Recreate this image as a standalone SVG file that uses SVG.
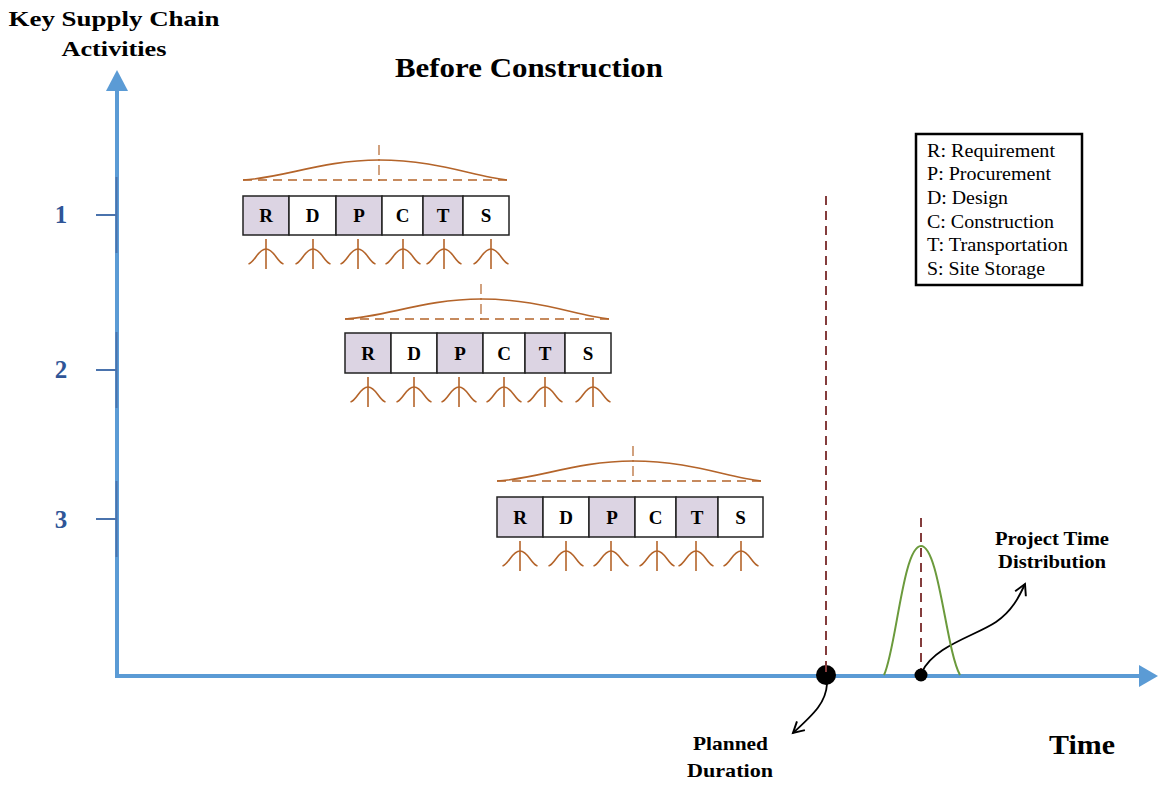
<svg xmlns="http://www.w3.org/2000/svg" width="1159" height="786" viewBox="0 0 1159 786">
  <style>
    .lbl { font-family: "Liberation Serif", "Times New Roman", serif; font-weight: bold; fill: #000; }
    .box { stroke: #222; stroke-width: 1.5; }
    .shade { fill: #DCD4E3; }
    .plain { fill: #fff; }
    .bx { font-family: "Liberation Serif", serif; font-weight: bold; font-size: 19px; text-anchor: middle; }
    .brown { fill: none; stroke: #B4642A; stroke-width: 1.6; }
    .brownDash { fill: none; stroke: #B4642A; stroke-width: 1.6; stroke-dasharray: 9 6; }
    .vdash { fill: none; stroke: #B4642A; stroke-width: 1.2; stroke-dasharray: 10 4 2 4; }
    .axis { stroke: #5B9BD5; stroke-width: 4; fill: none; }
    .tick { stroke: #4A73AD; stroke-width: 2; }
    .num { font-family: "Liberation Serif", serif; font-weight: bold; font-size: 25px; fill: #2F5597; text-anchor: middle; }
    .red { stroke: #843C3C; stroke-width: 2; stroke-dasharray: 9 6; fill: none; }
    .legend { font-family: "Liberation Serif", serif; font-size: 18px; fill: #000; }
  </style>
  <defs>
    <marker id="openHead" viewBox="0 0 14 14" refX="12" refY="7" markerWidth="15" markerHeight="15" markerUnits="userSpaceOnUse" orient="auto">
      <path d="M2,1.5 L12,7 L2,12.5" fill="none" stroke="#000" stroke-width="1.8"/>
    </marker>
    <!-- small distribution under each activity -->
    <g id="mini">
      <path class="brown" d="M-17.5,29 C-11,27 -8,14 0,14 C8,14 11,27 17.5,29"/>
      <line class="brown" x1="0" y1="4" x2="0" y2="34" stroke-width="1.3"/>
    </g>
  </defs>

  <!-- axis titles -->
  <g id="title-activities">
    <text class="lbl" x="114" y="26" font-size="22" text-anchor="middle" textLength="211" lengthAdjust="spacingAndGlyphs">Key Supply Chain</text>
    <text class="lbl" x="114" y="56" font-size="22" text-anchor="middle" textLength="105" lengthAdjust="spacingAndGlyphs">Activities</text>
  </g>
  <g id="title-main">
    <text class="lbl" x="529" y="77" font-size="28" text-anchor="middle" textLength="268" lengthAdjust="spacingAndGlyphs">Before Construction</text>
  </g>
  <g id="title-time">
    <text class="lbl" x="1082" y="754" font-size="28" text-anchor="middle" textLength="66" lengthAdjust="spacingAndGlyphs">Time</text>
  </g>

  <!-- connectors: axes, ticks, reference lines and pointers -->
  <g id="connectors">
    <line class="axis" x1="117" y1="677" x2="117" y2="86"/>
    <polygon points="117,70 106,91 128,91" fill="#5B9BD5"/>
    <line class="axis" x1="115" y1="676" x2="1142" y2="676"/>
    <polygon points="1158,676 1139,665 1139,687" fill="#5B9BD5"/>

    <line class="tick" x1="96" y1="215" x2="117" y2="215"/>
    <line class="tick" x1="116.5" y1="177" x2="116.5" y2="253"/>
    <line class="tick" x1="96" y1="370" x2="117" y2="370"/>
    <line class="tick" x1="116.5" y1="332" x2="116.5" y2="408"/>
    <line class="tick" x1="96" y1="519" x2="117" y2="519"/>
    <line class="tick" x1="116.5" y1="481" x2="116.5" y2="557"/>

    <line class="red" x1="826" y1="196" x2="826" y2="672"/>
    <line class="red" x1="921" y1="518" x2="921" y2="672"/>

    <path d="M827,684 C826,702 815,713 793,733" fill="none" stroke="#000" stroke-width="1.8" marker-end="url(#openHead)"/>
    <path d="M922,672 C934,646 975,636 996,622 C1012,611 1019,597 1025,584" fill="none" stroke="#000" stroke-width="1.8" marker-end="url(#openHead)"/>
  </g>

  <g id="ticks-labels">
    <text class="num" x="61" y="223">1</text>
    <text class="num" x="61" y="378">2</text>
    <text class="num" x="61" y="528">3</text>
  </g>

  <!-- activity sequences -->
  <g id="row-1" transform="translate(243,196)">
    <path class="brown" d="M0,-16 C40,-18 80,-36 136,-36 C192,-36 230,-20 264,-16"/>
    <line class="brownDash" x1="0" y1="-16" x2="264" y2="-16"/>
    <line class="vdash" x1="136" y1="-51" x2="136" y2="-13"/>
    <rect class="box shade" x="0" y="0" width="46" height="39"/>
    <rect class="box plain" x="46" y="0" width="47" height="39"/>
    <rect class="box shade" x="93" y="0" width="46" height="39"/>
    <rect class="box plain" x="139" y="0" width="41" height="39"/>
    <rect class="box shade" x="180" y="0" width="40" height="39"/>
    <rect class="box plain" x="220" y="0" width="46" height="39"/>
    <text class="bx" x="23" y="26">R</text>
    <text class="bx" x="69.5" y="26">D</text>
    <text class="bx" x="116" y="26">P</text>
    <text class="bx" x="159.5" y="26">C</text>
    <text class="bx" x="200" y="26">T</text>
    <text class="bx" x="243" y="26">S</text>
    <use href="#mini" x="23" y="39"/>
    <use href="#mini" x="70" y="39"/>
    <use href="#mini" x="115" y="39"/>
    <use href="#mini" x="160" y="39"/>
    <use href="#mini" x="201" y="39"/>
    <use href="#mini" x="248" y="39"/>
  </g>

  <g id="row-2" transform="translate(345,333)">
    <path class="brown" d="M0,-14 C40,-16 80,-34 136,-34 C192,-34 230,-18 264,-14"/>
    <line class="brownDash" x1="0" y1="-14" x2="264" y2="-14"/>
    <line class="vdash" x1="136" y1="-49" x2="136" y2="-11"/>
    <rect class="box shade" x="0" y="0" width="46" height="40"/>
    <rect class="box plain" x="46" y="0" width="46" height="40"/>
    <rect class="box shade" x="92" y="0" width="46" height="40"/>
    <rect class="box plain" x="138" y="0" width="42" height="40"/>
    <rect class="box shade" x="180" y="0" width="40" height="40"/>
    <rect class="box plain" x="220" y="0" width="46" height="40"/>
    <text class="bx" x="23" y="27">R</text>
    <text class="bx" x="69" y="27">D</text>
    <text class="bx" x="115" y="27">P</text>
    <text class="bx" x="159" y="27">C</text>
    <text class="bx" x="200" y="27">T</text>
    <text class="bx" x="243" y="27">S</text>
    <use href="#mini" x="23" y="40"/>
    <use href="#mini" x="69" y="40"/>
    <use href="#mini" x="114" y="40"/>
    <use href="#mini" x="159" y="40"/>
    <use href="#mini" x="200" y="40"/>
    <use href="#mini" x="248" y="40"/>
  </g>

  <g id="row-3" transform="translate(497,497)">
    <path class="brown" d="M0,-16 C40,-18 80,-36 136,-36 C192,-36 230,-20 264,-16"/>
    <line class="brownDash" x1="0" y1="-16" x2="264" y2="-16"/>
    <line class="vdash" x1="136" y1="-51" x2="136" y2="-13"/>
    <rect class="box shade" x="0" y="0" width="46" height="40"/>
    <rect class="box plain" x="46" y="0" width="46" height="40"/>
    <rect class="box shade" x="92" y="0" width="46" height="40"/>
    <rect class="box plain" x="138" y="0" width="41" height="40"/>
    <rect class="box shade" x="179" y="0" width="42" height="40"/>
    <rect class="box plain" x="221" y="0" width="45" height="40"/>
    <text class="bx" x="23" y="27">R</text>
    <text class="bx" x="69" y="27">D</text>
    <text class="bx" x="115" y="27">P</text>
    <text class="bx" x="158.5" y="27">C</text>
    <text class="bx" x="200" y="27">T</text>
    <text class="bx" x="243.5" y="27">S</text>
    <use href="#mini" x="23" y="40"/>
    <use href="#mini" x="69" y="40"/>
    <use href="#mini" x="114" y="40"/>
    <use href="#mini" x="160" y="40"/>
    <use href="#mini" x="199" y="40"/>
    <use href="#mini" x="244" y="40"/>
  </g>

  <!-- legend -->
  <g id="legend">
    <rect x="916" y="134" width="166" height="151" fill="#fff" stroke="#000" stroke-width="2.5"/>
    <text class="legend" x="927" y="157" textLength="128" lengthAdjust="spacingAndGlyphs">R: Requirement</text>
    <text class="legend" x="927" y="180" textLength="124" lengthAdjust="spacingAndGlyphs">P: Procurement</text>
    <text class="legend" x="927" y="204" textLength="81" lengthAdjust="spacingAndGlyphs">D: Design</text>
    <text class="legend" x="927" y="228" textLength="127" lengthAdjust="spacingAndGlyphs">C: Construction</text>
    <text class="legend" x="927" y="251" textLength="141" lengthAdjust="spacingAndGlyphs">T: Transportation</text>
    <text class="legend" x="927" y="275" textLength="118" lengthAdjust="spacingAndGlyphs">S: Site Storage</text>
  </g>

  <!-- planned duration marker -->
  <g id="planned-duration">
    <circle cx="826" cy="675" r="10" fill="#000"/>
    <line x1="826" y1="662" x2="826" y2="672" stroke="#843C3C" stroke-width="2"/>
    <text class="lbl" x="730.5" y="750" font-size="19" text-anchor="middle" textLength="75" lengthAdjust="spacingAndGlyphs">Planned</text>
    <text class="lbl" x="730" y="777" font-size="19" text-anchor="middle" textLength="86" lengthAdjust="spacingAndGlyphs">Duration</text>
  </g>

  <!-- project time distribution -->
  <g id="project-distribution">
    <path d="M884,675 C896,650 903,546 921,546 C939,546 946,650 960,675" fill="none" stroke="#6B9A3C" stroke-width="2"/>
    <circle cx="921" cy="675" r="6.5" fill="#000"/>
    <text class="lbl" x="1052" y="545" font-size="19" text-anchor="middle" textLength="114" lengthAdjust="spacingAndGlyphs">Project Time</text>
    <text class="lbl" x="1052" y="568" font-size="19" text-anchor="middle" textLength="108" lengthAdjust="spacingAndGlyphs">Distribution</text>
  </g>
</svg>
